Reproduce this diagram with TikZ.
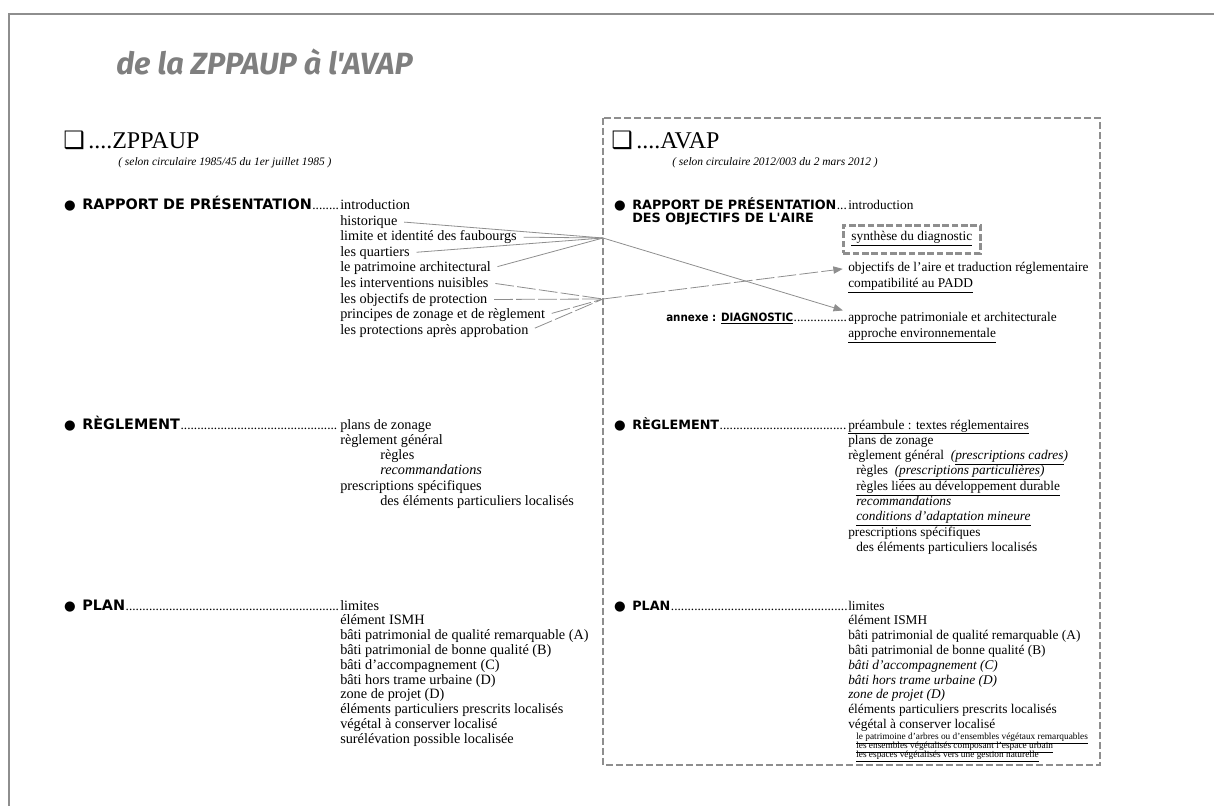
\documentclass[tikz,border=0pt]{standalone}
\usepackage{fontspec}
\setmainfont{Liberation Serif}
\newfontfamily\headfont{DejaVu Sans}
\newfontfamily\condfont{DejaVu Sans Condensed}
\newfontfamily\titlefont{Fira Sans}
\newfontfamily\symfont{DejaVu Sans}
\usetikzlibrary{arrows.meta,calc}
\definecolor{grisclair}{HTML}{8E8E8E}
\definecolor{gristitre}{HTML}{7F7F7F}
\tikzset{
  txt/.style={font=\fontsize{10.7}{11.7}\selectfont, inner sep=0pt, anchor=base west},
  txtd/.style={font=\fontsize{10}{11}\selectfont, inner sep=0pt, anchor=base west},
  petit/.style={font=\fontsize{7}{8}\selectfont, inner sep=0pt, anchor=base west},
  head/.style={font=\headfont\bfseries\fontsize{10.8}{11}\selectfont, inner sep=0pt, anchor=base west},
  headd/.style={font=\headfont\bfseries\fontsize{9.6}{10}\selectfont, inner sep=0pt, anchor=base west},
  puce/.style={font=\symfont\fontsize{10}{10}\selectfont, inner sep=0pt, anchor=base},
  caseb/.style={font=\symfont\fontsize{18}{18}\selectfont, inner sep=0pt, anchor=base west},
  grand/.style={font=\fontsize{18}{20}\selectfont, inner sep=0pt, anchor=base west},
  sous/.style={font=\itshape\fontsize{8.6}{9}\selectfont, inner sep=0pt, anchor=base west},
  lien/.style={draw=grisclair, line width=0.6pt, shorten <=5pt},
  lientir/.style={lien, dash pattern=on 14pt off 2.5pt},
  fleche/.style={-{Triangle[length=7pt,width=5.5pt]}, shorten >=4pt},
}
\newcommand{\pointilles}[2]{\path let \p1=(#1.base east), \p2=(#2.base west) in
  node[inner sep=0pt, anchor=base west, font=\fontsize{10}{11}\selectfont] at (\p1) {\hbox to \dimexpr\x2-\x1\relax{\leaders\hbox{.}\hfill}};}

\begin{document}
\begin{tikzpicture}[x=0.75pt,y=-0.75pt]
\useasboundingbox (0,0) rectangle (1214,806);

% cadre et titre
\draw[grisclair, line width=2.2pt] (9,810) -- (9,14) -- (1220,14);
\node[font=\titlefont\bfseries\itshape\fontsize{23}{26}\selectfont, text=gristitre, inner sep=0pt, anchor=base west] (titre) at (116,75) {de la ZPPAUP à l'AVAP};

% ZPPAUP
\node[caseb] (caseA) at (63,149) {❑};
\node[grand] (zppaup) at (88,149) {....ZPPAUP};
\node[sous] (circA) at (118,166) {( selon circulaire 1985/45 du 1er juillet 1985 )};

% AVAP
\draw[grisclair, line width=1.1pt, dash pattern=on 5pt off 2.5pt] (603,118) rectangle (1100,765);
\node[caseb] (caseB) at (611,149) {❑};
\node[grand] (avap) at (636,149) {....AVAP};
\node[sous] (circB) at (672,166) {( selon circulaire 2012/003 du 2 mars 2012 )};

% rapport ZPPAUP
\node[puce] (p1) at (70,209.5) {●};
\node[head] (rap1) at (82,209.5) {RAPPORT DE PRÉSENTATION};
\node[txt] (intro1) at (340,209.5) {introduction};
\pointilles{rap1}{intro1}
\node[txt] (hist) at (340,225) {historique};
\node[txt] (faub) at (340,240.6) {limite et identité des faubourgs};
\node[txt] (quart) at (340,256.2) {les quartiers};
\node[txt] (patri) at (340,271.8) {le patrimoine architectural};
\node[txt] (nuis) at (340,287.4) {les interventions nuisibles};
\node[txt] (objp) at (340,303) {les objectifs de protection};
\node[txt] (zonage) at (340,318.6) {principes de zonage et de règlement};
\node[txt] (protec) at (340,334.2) {les protections après approbation};

% rapport AVAP
\node[puce] (p2) at (620,209.5) {●};
\node[headd] (rap2) at (632,209.5) {RAPPORT DE PRÉSENTATION};
\node[headd] (rap2b) at (632,223) {DES OBJECTIFS DE L'AIRE};
\node[txtd] (intro2) at (848,209.5) {introduction};
\pointilles{rap2}{intro2}
\node[txtd, draw=grisclair, line width=2.2pt, dash pattern=on 5pt off 2pt, inner xsep=6pt, inner ysep=5pt] (synth) at (842,241) {\underline{synthèse du diagnostic}};
\node[txtd] (objaire) at (848,271.5) {objectifs de l'aire et traduction réglementaire};
\node[txtd] (padd) at (848,287.5) {\underline{compatibilité au PADD}};
\node[font=\condfont\bfseries\fontsize{8.6}{10}\selectfont, inner sep=0pt, anchor=base west] (annexe) at (666,321.5) {annexe : \underline{DIAGNOSTIC}};
\node[txtd] (appr) at (848,321.5) {approche patrimoniale et architecturale};
\pointilles{annexe}{appr}
\node[txtd] (envir) at (848,337.5) {\underline{approche environnementale}};

% liens
\coordinate (A) at (603,238);
\coordinate (B) at (603,299);
\draw[lien] (hist.east) -- (A);
\draw[lien] (faub.east) -- (A);
\draw[lien] (quart.east) -- (A);
\draw[lien] (patri.east) -- (A);
\draw[lientir] (nuis.east) -- (B);
\draw[lientir] (objp.east) -- (B);
\draw[lientir] (zonage.east) -- (B);
\draw[lientir] (protec.east) -- (B);
\draw[lien, fleche, shorten <=0pt] (A) -- (appr.north west);
\draw[lientir, fleche, shorten <=0pt] (B) -- (objaire.west);

% reglement ZPPAUP
\node[puce] (p3) at (70,429) {●};
\node[head] (reg1) at (82,429) {RÈGLEMENT};
\node[txt] (plans1) at (340,429) {plans de zonage};
\pointilles{reg1}{plans1}
\node[txt] (rg1) at (340,444.3) {règlement général};
\node[txt] (regles1) at (380,459.6) {règles};
\node[txt] (recom1) at (380,474.9) {\itshape recommandations};
\node[txt] (presc1) at (340,490.2) {prescriptions spécifiques};
\node[txt] (elts1) at (380,505.5) {des éléments particuliers localisés};

% reglement AVAP
\node[puce] (p4) at (620,429) {●};
\node[headd] (reg2) at (632,429) {RÈGLEMENT};
\node[txtd] (pream) at (848,429) {\underline{préambule : textes réglementaires}};
\pointilles{reg2}{pream}
\node[txtd] (plans2) at (848,444.3) {plans de zonage};
\node[txtd] (rg2) at (848,459.6) {règlement général\ \ \textit{(\underline{prescriptions cadres})}};
\node[txtd] (regles2) at (856,474.9) {règles\ \ \textit{(\underline{prescriptions particulières})}};
\node[txtd] (durable) at (856,490.2) {\underline{règles liées au développement durable}};
\node[txtd] (recom2) at (856,505.5) {\itshape recommandations};
\node[txtd] (adapt) at (856,520.8) {\itshape\underline{conditions d'adaptation mineure}};
\node[txtd] (presc2) at (848,536.1) {prescriptions spécifiques};
\node[txtd] (elts2) at (856,551.4) {des éléments particuliers localisés};

% plan ZPPAUP
\node[puce] (p5) at (70,610) {●};
\node[head] (plan1) at (82,610) {PLAN};
\node[txt] (lim1) at (340,610) {limites};
\pointilles{plan1}{lim1}
\node[txt] (ismh1) at (340,624.8) {élément ISMH};
\node[txt] (qa1) at (340,639.6) {bâti patrimonial de qualité remarquable (A)};
\node[txt] (qb1) at (340,654.4) {bâti patrimonial de bonne qualité (B)};
\node[txt] (qc1) at (340,669.2) {bâti d'accompagnement (C)};
\node[txt] (qd1) at (340,684) {bâti hors trame urbaine (D)};
\node[txt] (zp1) at (340,698.8) {zone de projet (D)};
\node[txt] (epl1) at (340,713.6) {éléments particuliers prescrits localisés};
\node[txt] (veg1) at (340,728.4) {végétal à conserver localisé};
\node[txt] (sur1) at (340,743.2) {surélévation possible localisée};

% plan AVAP
\node[puce] (p6) at (620,610) {●};
\node[headd] (plan2) at (632,610) {PLAN};
\node[txtd] (lim2) at (848,610) {limites};
\pointilles{plan2}{lim2}
\node[txtd] (ismh2) at (848,624.8) {élément ISMH};
\node[txtd] (qa2) at (848,639.6) {bâti patrimonial de qualité remarquable (A)};
\node[txtd] (qb2) at (848,654.4) {bâti patrimonial de bonne qualité (B)};
\node[txtd] (qc2) at (848,669.2) {\itshape bâti d'accompagnement (C)};
\node[txtd] (qd2) at (848,684) {\itshape bâti hors trame urbaine (D)};
\node[txtd] (zp2) at (848,698.8) {\itshape zone de projet (D)};
\node[txtd] (epl2) at (848,713.6) {éléments particuliers prescrits localisés};
\node[txtd] (veg2) at (848,728.4) {végétal à conserver localisé};
\node[petit] (arbres) at (856,739) {\underline{le patrimoine d'arbres ou d'ensembles végétaux remarquables}};
\node[petit] (urbain) at (856,748) {\underline{les ensembles végétalisés composant l'espace urbain}};
\node[petit] (naturel) at (856,757) {\underline{les espaces végétalisés vers une gestion naturelle}};
\end{tikzpicture}
\end{document}
